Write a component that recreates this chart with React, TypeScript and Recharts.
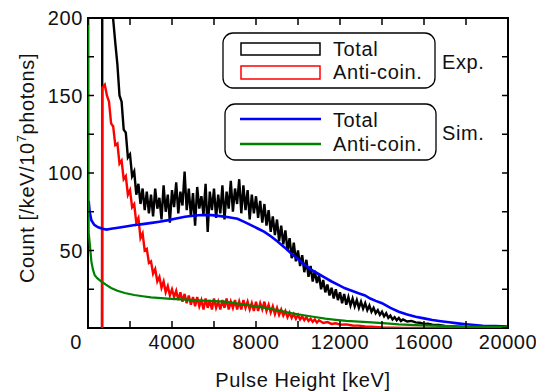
import React from 'react';
import {LineChart, Line, XAxis, YAxis, ReferenceArea} from 'recharts';

const FONT = '"Liberation Sans", Arial, Helvetica, sans-serif';
const PLOT = {left: 88, top: 18, right: 508, bottom: 328};

const xTicks = [0, 2000, 4000, 6000, 8000, 10000, 12000, 14000, 16000, 18000, 20000];
const xLabels = [0, 4000, 8000, 12000, 16000, 20000];
const yTicks = [0, 25, 50, 75, 100, 125, 150, 175, 200];
const yLabels = [50, 100, 150, 200];

// experimental spectra, 100 keV bins starting at 800 keV
const expBins = Array.from({length: 143}, (_, i) => 800 + i * 100);
const expEdge = [670, 680];

const expTotalEdge = [0, 260];
const expTotal = [
  245, 238, 226, 212, 199, 184, 170, 150, 146, 128,
  126, 110, 112, 98, 101, 86, 93, 80, 90, 76,
  88, 74, 86, 72, 90, 77, 84, 70, 92, 75,
  86, 68, 89, 78, 94, 74, 88, 79, 101, 76,
  90, 72, 87, 66, 91, 77, 85, 73, 93, 62,
  88, 76, 90, 71, 86, 74, 92, 70, 88, 77,
  95, 75, 90, 80, 96, 74, 92, 76, 89, 70,
  86, 74, 85, 71, 82, 68, 80, 66, 76, 62,
  72, 60, 70, 56, 66, 54, 63, 50, 58, 45,
  55, 43, 50, 40, 47, 36, 44, 33, 40, 30,
  37, 29, 34, 25, 31, 23, 28, 21, 26, 19,
  25, 18, 23, 16, 22, 15, 20, 14.5, 19, 14,
  18, 13, 17, 12.5, 16, 11.5, 14.5, 10.5, 13, 9.5,
  11.5, 8.5, 10.5, 7.5, 9.5, 6.5, 8, 5.5, 7, 5,
  6.5, 4.5, 5.5,
];
const expTotalTailE = [15200, 15400, 15600, 15800, 16000, 16200, 16400, 16700, 17000, 17300, 17600, 18000, 18500, 19000, 19500, 20000];
const expTotalTailV = [4.2, 4.6, 3.6, 3.4, 2.6, 2.8, 2.2, 1.9, 1.4, 1.2, 0.9, 0.6, 0.4, 0.3, 0.2, 0.1];

const expAntiEdge = [0, 155];
const expAnti = [
  157, 150, 146, 132, 130, 118, 119, 106, 108, 96,
  98, 86, 89, 78, 80, 68, 71, 58, 61, 50,
  51, 42, 43, 35, 38, 30, 33, 26, 30, 23,
  27, 21, 25, 20, 24, 18, 23, 17, 22, 16,
  21, 15, 20, 14, 20, 14, 18, 12, 19, 13,
  18, 12, 19, 13, 17, 12, 18, 13, 19, 12,
  17, 13, 18, 12, 17, 12, 18, 13, 17, 12,
  16, 11, 17, 11, 16, 12, 17, 11, 15, 10,
  14, 9, 13, 8.5, 12, 8, 11, 7, 10, 6.5,
  9, 6, 8.5, 5.5, 7.5, 5, 7, 4.5, 6, 4,
  5.5, 3.5, 5,
];
const expAntiTailE = [11200, 11400, 11600, 11800, 12000, 12300, 12600, 12900, 13200, 13500, 14000, 14500, 15000, 16000, 20000];
const expAntiTailV = [3.2, 3.8, 2.6, 3, 2.2, 2.3, 1.6, 1.5, 1, 0.8, 0.4, 0.2, 0.1, 0, 0];

// simulation
const simTotalE = [30, 80, 160, 300, 480, 700, 880, 1100, 1430, 1800, 2230, 2600, 3030, 3400, 3830, 4200, 4620, 5000, 5420, 5900, 6300, 6700, 7120, 7440, 7760, 8080, 8400, 8720, 9040, 9360, 9680, 10000, 10320, 10640, 10960, 11280, 11600, 11920, 12240, 12560, 12880, 13190, 13440, 13700, 14000, 14400, 14800, 15200, 15600, 16000, 16400, 16800, 17200, 17600, 18000, 18400, 18800, 19400, 20000];
const simTotal = [82, 75, 69.5, 66.5, 65, 64, 63.5, 64, 64.7, 65.5, 66.4, 67, 67.8, 68.6, 69.6, 70.6, 71.8, 72.4, 72.9, 72.8, 72.2, 71.4, 70.5, 68.5, 66.4, 64.2, 62, 59, 55.7, 52, 48, 44.3, 40.6, 37.5, 35, 32.5, 30, 27.8, 25.6, 24, 22.4, 21, 19, 17.5, 16, 13, 10.5, 8.7, 7.3, 6.2, 5.2, 4.4, 3.7, 3, 2.4, 1.9, 1.5, 1.2, 0.9];

const simAntiE = [10, 30, 80, 160, 240, 320, 450, 640, 850, 1100, 1400, 1750, 2200, 2600, 3000, 3800, 4600, 5500, 6500, 7000, 7500, 8000, 8500, 9000, 9600, 10200, 10800, 11300, 11800, 12300, 12900, 13500, 14200, 14800, 15600, 16400, 17200, 18000, 19000, 20000];
const simAnti = [240, 62, 55, 43, 37.5, 34, 32, 30, 28, 25.8, 24, 22.6, 21.3, 20.5, 19.8, 19, 18.3, 17.6, 17, 16, 15, 14, 12.8, 11.6, 9.8, 8.4, 7.1, 6.1, 5.3, 4.6, 4.1, 3.6, 3, 2.4, 1.9, 1.5, 1.2, 0.9, 0.7, 0.5];

const toPoints = (e: number[], v: number[]) => e.map((x, i) => ({x, y: v[i]}));

const expTotalData = [
  ...toPoints(expEdge, expTotalEdge),
  ...toPoints(expBins, expTotal),
  ...toPoints(expTotalTailE, expTotalTailV),
];
const expAntiData = [
  ...toPoints(expEdge, expAntiEdge),
  ...toPoints(expBins.slice(0, expAnti.length), expAnti),
  ...toPoints(expAntiTailE, expAntiTailV),
];
const simTotalData = toPoints(simTotalE, simTotal);
const simAntiData = toPoints(simAntiE, simAnti);

const textStyle = {fontFamily: FONT, fontSize: 20, fill: '#111', letterSpacing: 0.6};

const XTick = (props: any) => {
  const {x, payload} = props;
  const v = payload.value;
  return (
    <g>
      <line x1={x} x2={x} y1={PLOT.bottom} y2={PLOT.bottom - 7} stroke="#000" strokeWidth={1.5} />
      <line x1={x} x2={x} y1={PLOT.top} y2={PLOT.top + 7} stroke="#000" strokeWidth={1.5} />
      {xLabels.includes(v) && (
        <text x={v === 0 ? x - 6 : x} y={PLOT.bottom + 20.5} textAnchor={v === 0 ? 'end' : 'middle'} style={textStyle}>
          {v}
        </text>
      )}
    </g>
  );
};

const YTick = (props: any) => {
  const {y, payload} = props;
  const v = payload.value;
  return (
    <g>
      <line x1={PLOT.left} x2={PLOT.left + 6} y1={y} y2={y} stroke="#000" strokeWidth={1.5} />
      <line x1={PLOT.right} x2={PLOT.right - 6} y1={y} y2={y} stroke="#000" strokeWidth={1.5} />
      {yLabels.includes(v) && (
        <text x={PLOT.left - 5} y={y + 7} textAnchor="end" style={textStyle}>
          {v}
        </text>
      )}
    </g>
  );
};

const Overlay = () => (
  <svg width={544} height={391} style={{position: 'absolute', left: 0, top: 0, pointerEvents: 'none'}}>
    <rect x={223} y={33} width={212} height={55} rx={10} fill="#fff" stroke="#000" strokeWidth={1.3} />
    <rect x={241} y={43} width={79} height={12} fill="none" stroke="#000" strokeWidth={1.5} />
    <rect x={241} y={66} width={79} height={13} fill="none" stroke="#ff0000" strokeWidth={1.5} />
    <text x={333} y={56} style={textStyle}>Total</text>
    <text x={333} y={79} style={textStyle}>Anti-coin.</text>
    <text x={442} y={69} style={textStyle}>Exp.</text>

    <rect x={225} y={104} width={211} height={56} rx={10} fill="#fff" stroke="#000" strokeWidth={1.3} />
    <line x1={240} x2={321} y1={119} y2={119} stroke="#0000ff" strokeWidth={2.5} />
    <line x1={240} x2={321} y1={144} y2={144} stroke="#008000" strokeWidth={2.5} />
    <text x={333} y={127} style={textStyle}>Total</text>
    <text x={333} y={150.5} style={textStyle}>Anti-coin.</text>
    <text x={442} y={140} style={textStyle}>Sim.</text>

    <text x={303} y={387} textAnchor="middle" style={textStyle}>Pulse Height [keV]</text>
    <text transform="translate(33.5,168) rotate(-90)" textAnchor="middle" style={textStyle}>
      Count [/keV/10<tspan dy={-8} fontSize={13}>7</tspan><tspan dy={8}>photons]</tspan>
    </text>
  </svg>
);

const App = () => {
  return (
    <div style={{position: 'relative', width: 544, height: 391, margin: '-8px 0 0 -8px', overflow: 'hidden', background: '#fff'}}>
      <LineChart width={544} height={391} margin={{top: 18, right: 36, bottom: 0, left: 0}}>
        <XAxis
          type="number"
          dataKey="x"
          domain={[0, 20000]}
          ticks={xTicks}
          interval={0}
          allowDataOverflow
          height={63}
          tickSize={0}
          tickLine={false}
          axisLine={false}
          tick={<XTick />}
        />
        <YAxis
          type="number"
          dataKey="y"
          domain={[0, 200]}
          ticks={yTicks}
          interval={0}
          allowDataOverflow
          width={88}
          tickSize={0}
          tickLine={false}
          axisLine={false}
          tick={<YTick />}
        />
        <Line data={expTotalData} dataKey="y" type="linear" stroke="#000000" strokeWidth={2.4} dot={false} isAnimationActive={false} />
        <Line data={expAntiData} dataKey="y" type="linear" stroke="#ff0000" strokeWidth={2.4} dot={false} isAnimationActive={false} />
        <Line data={simTotalData} dataKey="y" type="linear" stroke="#0000ff" strokeWidth={2.6} dot={false} isAnimationActive={false} />
        <Line data={simAntiData} dataKey="y" type="linear" stroke="#008000" strokeWidth={2.2} dot={false} isAnimationActive={false} />
        <ReferenceArea x1={0} x2={20000} y1={0} y2={200} fill="none" stroke="#000" strokeWidth={2} ifOverflow="visible" />
      </LineChart>
      <Overlay />
    </div>
  );
};

export default App;
